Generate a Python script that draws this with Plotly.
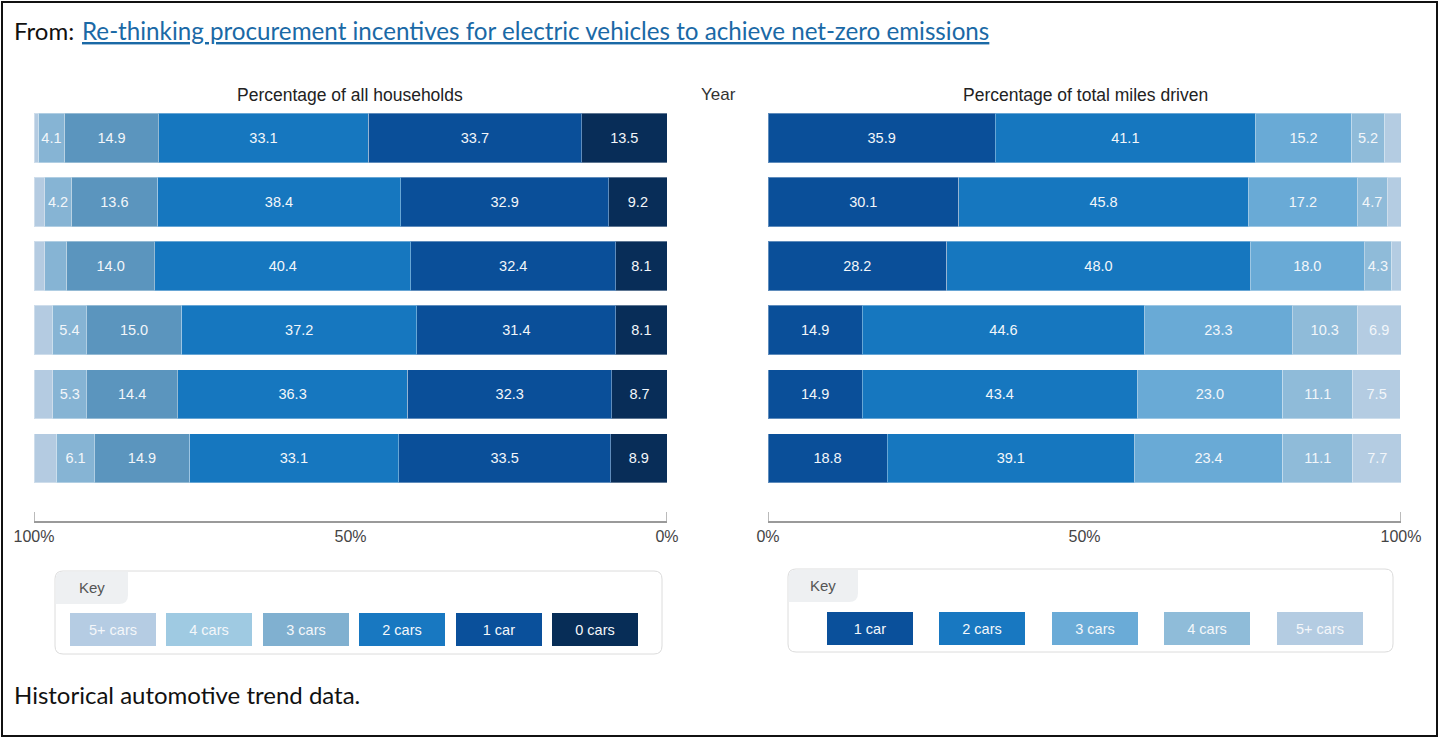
import plotly.graph_objects as go

W, H = 1439, 739

years = ["1983", "1990", "1995", "2001", "2009", "2017"]

# Percentage of all households (by number of cars)
hh_0 = [13.5, 9.2, 8.1, 8.1, 8.7, 8.9]
hh_1 = [33.7, 32.9, 32.4, 31.4, 32.3, 33.5]
hh_2 = [33.1, 38.4, 40.4, 37.2, 36.3, 33.1]
hh_3 = [14.9, 13.6, 14.0, 15.0, 14.4, 14.9]
hh_4 = [4.1, 4.2, 3.4, 5.4, 5.3, 6.1]
hh_5 = [0.7, 1.7, 1.7, 2.9, 3.0, 3.5]

# Percentage of total miles driven (by number of cars)
mi_1 = [35.9, 30.1, 28.2, 14.9, 14.9, 18.8]
mi_2 = [41.1, 45.8, 48.0, 44.6, 43.4, 39.1]
mi_3 = [15.2, 17.2, 18.0, 23.3, 23.0, 23.4]
mi_4 = [5.2, 4.7, 4.3, 10.3, 11.1, 11.1]
mi_5 = [2.6, 2.2, 1.5, 6.9, 7.5, 7.7]

hh_series = [("0 cars", hh_0, "#082d58"), ("1 car", hh_1, "#0a4f99"),
             ("2 cars", hh_2, "#1677bf"), ("3 cars", hh_3, "#5b95be"),
             ("4 cars", hh_4, "#86b4d4"), ("5+ cars", hh_5, "#b4cbe1")]
mi_series = [("1 car", mi_1, "#0a4f99"), ("2 cars", mi_2, "#1677bf"),
             ("3 cars", mi_3, "#69aad6"), ("4 cars", mi_4, "#8fbbd9"),
             ("5+ cars", mi_5, "#b4cce2")]

left_key = [("5+ cars", "#b5cce3"), ("4 cars", "#9fcae2"), ("3 cars", "#80b0d0"),
            ("2 cars", "#1878c1"), ("1 car", "#0a509b"), ("0 cars", "#072d57")]
right_key = [("1 car", "#0a509b"), ("2 cars", "#1878c1"), ("3 cars", "#6aabd7"),
             ("4 cars", "#8fbcd9"), ("5+ cars", "#b4cce2")]


def px(x):
    return x / W


def py(y):
    return 1 - y / H


def lab(vals):
    return [f"{v:.1f}" if v >= 4.0 else "" for v in vals]


SANS = "Liberation Sans, Arial"

fig = go.Figure()
for name, vals, col in hh_series:
    fig.add_trace(go.Bar(
        y=years, x=vals, orientation="h", name=name, xaxis="x", yaxis="y",
        marker=dict(color=col, line=dict(width=1, color="rgba(255,255,255,0.35)")),
        text=lab(vals), texttemplate="%{text}", textposition="inside",
        insidetextanchor="middle", textangle=0,
        textfont=dict(color="#f2f6fa", size=14.5, family=SANS),
        showlegend=False, hoverinfo="skip"))
for name, vals, col in mi_series:
    fig.add_trace(go.Bar(
        y=years, x=vals, orientation="h", name=name, xaxis="x2", yaxis="y2",
        marker=dict(color=col, line=dict(width=1, color="rgba(255,255,255,0.35)")),
        text=lab(vals), texttemplate="%{text}", textposition="inside",
        insidetextanchor="middle", textangle=0,
        textfont=dict(color="#f2f6fa", size=14.5, family=SANS),
        showlegend=False, hoverinfo="skip"))

ydom = [py(521), py(106)]
axfont = dict(size=16, color="#444", family=SANS)
common_x = dict(range=[0, 100], tickvals=[0, 50, 100], ticktext=["0%", "50%", "100%"],
                ticks="", showgrid=False, zeroline=False, showline=True,
                linecolor="#9a9a9a", linewidth=2, tickfont=axfont, fixedrange=True)
common_y = dict(type="category", range=[5.98, -0.5], showticklabels=False,
                showgrid=False, zeroline=False, showline=False, domain=ydom,
                fixedrange=True)

fig.update_layout(
    width=W, height=H, margin=dict(l=0, r=0, t=0, b=0, autoexpand=False),
    paper_bgcolor="white", plot_bgcolor="white",
    barmode="stack", bargap=0.23,
    uniformtext=dict(minsize=14, mode="show"),
    xaxis=dict(common_x, domain=[px(34), px(667)], anchor="y", range=[100, 0]),
    yaxis=dict(common_y, anchor="x"),
    xaxis2=dict(common_x, domain=[px(768), px(1401)], anchor="y2"),
    yaxis2=dict(common_y, anchor="x2"),
)

shapes = []
# tick marks at axis ends
for xr, vals in (("x", [100, 0]), ("x2", [0, 100])):
    for v in vals:
        shapes.append(dict(type="line", xref=xr, yref="paper", x0=v, x1=v,
                           y0=py(521), y1=py(512), line=dict(color="#777", width=1)))


def rpath(x0, y0, x1, y1, rtl=0, rtr=0, rbr=0, rbl=0):
    pts = []
    pts.append(f"M {px(x0 + rtl)},{py(y0)}")
    pts.append(f"L {px(x1 - rtr)},{py(y0)}")
    if rtr:
        pts.append(f"Q {px(x1)},{py(y0)} {px(x1)},{py(y0 + rtr)}")
    pts.append(f"L {px(x1)},{py(y1 - rbr)}")
    if rbr:
        pts.append(f"Q {px(x1)},{py(y1)} {px(x1 - rbr)},{py(y1)}")
    pts.append(f"L {px(x0 + rbl)},{py(y1)}")
    if rbl:
        pts.append(f"Q {px(x0)},{py(y1)} {px(x0)},{py(y1 - rbl)}")
    pts.append(f"L {px(x0)},{py(y0 + rtl)}")
    if rtl:
        pts.append(f"Q {px(x0)},{py(y0)} {px(x0 + rtl)},{py(y0)}")
    pts.append("Z")
    return " ".join(pts)


anns = []


def ann(x, y, text, font, xanchor="center", yref="paper", **kw):
    d = dict(x=px(x), y=(py(y) if yref == "paper" else y), xref="paper", yref=yref,
             text=text, showarrow=False, font=font, xanchor=xanchor, yanchor="middle")
    d.update(kw)
    anns.append(d)


keyfont = dict(size=15, color="#555", family=SANS)
for (bx0, by0, bx1, by1, tx1, ty1, items, cx0, step, cy) in (
        (55, 571, 662, 654, 128, 604, left_key, 113, 96.4, 629.5),
        (788, 569, 1393, 652, 858, 602, right_key, 869.5, 112.5, 628)):
    shapes.append(dict(type="path", xref="paper", yref="paper",
                       path=rpath(bx0, by0, bx1, by1, 8, 8, 8, 8),
                       line=dict(color="#dcdcdc", width=1), fillcolor="white", layer="below"))
    shapes.append(dict(type="path", xref="paper", yref="paper",
                       path=rpath(bx0 + 0.5, by0 + 0.5, tx1, ty1, 8, 0, 9, 0),
                       line=dict(width=0), fillcolor="#eef0f2", layer="below"))
    ann((bx0 + tx1) / 2, (by0 + ty1) / 2, "Key", keyfont)
    for i, (t, c) in enumerate(items):
        ann(cx0 + i * step, cy, t, dict(size=14.5, color="#f4f7fa", family=SANS),
            bgcolor=c, width=86, height=33, borderpad=0, borderwidth=0)

# outer border
shapes.append(dict(type="rect", xref="paper", yref="paper", x0=px(2), x1=px(1437),
                   y0=py(736), y1=py(2), line=dict(color="#111", width=2)))

subfont = dict(size=17.5, color="#222", family=SANS)
ann(350, 95, "Percentage of all households", subfont)
ann(718, 95, "Year", dict(size=17, color="#333", family=SANS))
ann(1085, 95, "Percentage of total miles driven", subfont)
for yr in years:
    ann(718, yr, yr, dict(size=17, color="#333", family=SANS), yref="y")

tfont = "Lato, Noto Sans, sans-serif"
ann(12, 30, "From:", dict(size=24, color="#111", family=tfont), xanchor="left")
ann(80, 30, "Re-thinking procurement incentives for electric vehicles to achieve net-zero emissions",
    dict(size=24.2, color="#1a69a6", family=tfont, lineposition="under"), xanchor="left")
ann(12, 694, "Historical automotive trend data.", dict(size=24, color="#111", family=tfont),
    xanchor="left")

fig.update_layout(shapes=shapes, annotations=anns)
fig.write_html("out.html", config={"displayModeBar": False},
               post_script="document.body.style.margin='0px';")
